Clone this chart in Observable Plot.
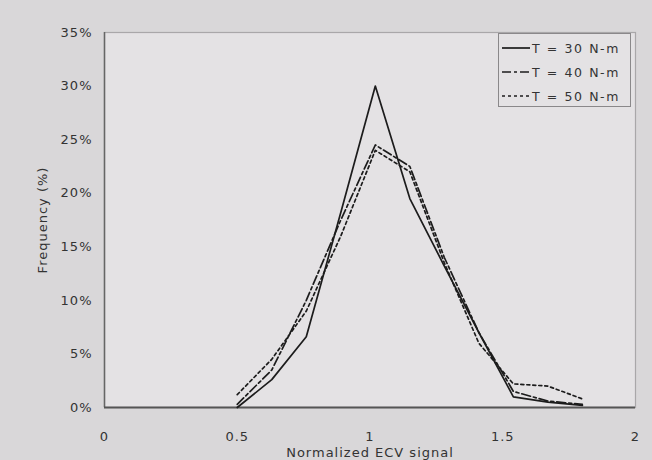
<!DOCTYPE html>
<html><head><meta charset="utf-8">
<script src="https://cdn.jsdelivr.net/npm/d3@7"></script>
<script src="https://cdn.jsdelivr.net/npm/@observablehq/plot@0.6"></script>
<style>
html,body{margin:0;padding:0;background:#d9d7d9;}
#wrap{position:relative;width:652px;height:460px;overflow:hidden;}
#legend{position:absolute;left:498px;top:33px;width:133px;height:74px;border:1.5px solid #8a888a;background:#e4e2e4;box-sizing:border-box;font-family:"DejaVu Sans",sans-serif;font-size:12.5px;color:#333;letter-spacing:1.6px;}
#legend .row{position:absolute;left:3px;height:14px;display:flex;align-items:center;white-space:nowrap;}
#legend svg{margin-right:2px;}
</style></head><body><div id="wrap"></div>
<script>
const bins = [0.5, 0.63, 0.76, 0.89, 1.02, 1.15, 1.28, 1.41, 1.54, 1.67, 1.80];
const t30 = [0, 2.6, 6.6, 18.2, 30, 19.5, 13.2, 7, 1, 0.5, 0.2];
const t40 = [0.3, 3.5, 10, 17.5, 24.5, 22.5, 14, 7, 1.5, 0.6, 0.3];
const t50 = [1.2, 4.5, 9, 16, 24, 22, 13.5, 6, 2.2, 2, 0.8];
const seriesNames = ["T = 30 N-m", "T = 40 N-m", "T = 50 N-m"];
const xTicks = [0, 0.5, 1, 1.5, 2];
const yTicks = [0, 5, 10, 15, 20, 25, 30, 35];

const dashes = [null, "9,3,3,3", "3,3"];
const seriesVals = [t30, t40, t50];
const rows = [];
seriesVals.forEach((vals, i) => bins.forEach((b, j) => rows.push({x: b, y: vals[j], s: seriesNames[i]})));

const fontStyle = {fontFamily: "DejaVu Sans, sans-serif", fontSize: "13px", color: "#333", background: "transparent", letterSpacing: "1px"};

const chart = Plot.plot({
  width: 652, height: 460,
  marginLeft: 104, marginRight: 17, marginTop: 32, marginBottom: 53,
  style: fontStyle,
  x: {domain: [0, 2]},
  y: {domain: [0, 35]},
  marks: [
    Plot.frame({fill: "#e4e2e4", stroke: "#a9a7a9", strokeWidth: 1.2}),
    Plot.axisX({ticks: xTicks, tickSize: 0, tickPadding: 24, tickFormat: d => String(d), label: "Normalized ECV signal", labelAnchor: "center", labelArrow: "none", labelOffset: 49, fill: "#333"}),
    Plot.axisY({ticks: yTicks, tickSize: 0, tickPadding: 12, tickFormat: d => d + "%", label: "Frequency (%)", labelAnchor: "center", labelArrow: "none", labelOffset: 67, fill: "#333"}),
    Plot.ruleX([0], {stroke: "#666", strokeWidth: 1.5}),
    Plot.ruleY([0], {stroke: "#555", strokeWidth: 2}),
    ...seriesNames.map((name, i) => Plot.line(rows.filter(r => r.s === name), {x: "x", y: "y", stroke: "#1c1c1c", strokeWidth: 1.7, strokeDasharray: dashes[i]}))
  ]
});
const wrap = document.getElementById("wrap");
wrap.appendChild(chart);

const legend = document.createElement("div");
legend.id = "legend";
seriesNames.forEach((name, i) => {
  const row = document.createElement("div");
  row.className = "row";
  row.style.top = (7 + i * 24) + "px";
  row.innerHTML = `<svg width="28" height="6"><line x1="0" y1="3" x2="28" y2="3" stroke="#1c1c1c" stroke-width="1.7" ${dashes[i] ? `stroke-dasharray="${dashes[i]}"` : ""}/></svg><span>${name}</span>`;
  legend.appendChild(row);
});
wrap.appendChild(legend);
</script>
</body></html>
